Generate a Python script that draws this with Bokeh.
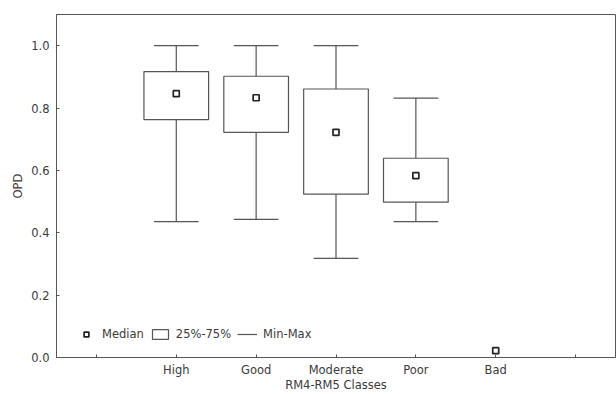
from bokeh.plotting import figure
from bokeh.models import (Range1d, FixedTicker, Legend, LegendItem, ColumnDataSource)
from bokeh.embed import file_html
from bokeh.resources import INLINE

# ---- data ----
positions = [1, 2, 3, 4, 5, 6, 7]
tick_labels = ["", "High", "Good", "Moderate", "Poor", "Bad", ""]
classes = ["High", "Good", "Moderate", "Poor", "Bad"]
class_pos = [2, 3, 4, 5, 6]
medians = [0.846, 0.833, 0.722, 0.583, 0.022]
q1 = [0.763, 0.722, 0.524, 0.498, 0.022]
q3 = [0.917, 0.902, 0.861, 0.639, 0.022]
mins = [0.436, 0.443, 0.318, 0.436, 0.022]
maxs = [1.0, 1.0, 1.0, 0.832, 0.022]
y_ticks = [0.0, 0.2, 0.4, 0.6, 0.8, 1.0]

LINE = "#555555"
TEXT = "#3a3a3a"
FONT = "DejaVu Sans"
FS = "11.5px"
BOX_W = 0.81
CAP_W = 0.56

p = figure(width=616, height=394, output_backend="svg", toolbar_location=None,
           x_range=Range1d(0.5, 7.5), y_range=Range1d(0, 1.1),
           min_border_left=56, min_border_right=1, min_border_top=14,
           min_border_bottom=0)
p.background_fill_color = "white"
p.border_fill_color = "white"
p.outline_line_color = LINE
p.xgrid.visible = False
p.ygrid.visible = False

# boxes only where the range is non-degenerate
idx = [i for i in range(len(classes)) if q3[i] > q1[i]]
box = ColumnDataSource(dict(
    x=[class_pos[i] for i in idx],
    left=[class_pos[i] - BOX_W / 2 for i in idx],
    right=[class_pos[i] + BOX_W / 2 for i in idx],
    capl=[class_pos[i] - CAP_W / 2 for i in idx],
    capr=[class_pos[i] + CAP_W / 2 for i in idx],
    q1=[q1[i] for i in idx], q3=[q3[i] for i in idx],
    lo=[mins[i] for i in idx], hi=[maxs[i] for i in idx],
))
stem = p.segment(x0="x", y0="lo", x1="x", y1="hi", source=box,
                 line_color=LINE, line_width=1.2)
p.segment(x0="capl", y0="hi", x1="capr", y1="hi", source=box,
          line_color=LINE, line_width=1.2)
p.segment(x0="capl", y0="lo", x1="capr", y1="lo", source=box,
          line_color=LINE, line_width=1.2)
boxr = p.quad(left="left", right="right", bottom="q1", top="q3", source=box,
              fill_color="white", line_color=LINE, line_width=1.2)
med = p.scatter(x=class_pos, y=medians, marker="square", size=6,
                fill_color="white", line_color="#222222", line_width=1.7)

# axes
p.xaxis.ticker = FixedTicker(ticks=positions)
p.xaxis.major_label_overrides = {pos: lab for pos, lab in zip(positions, tick_labels)}
p.yaxis.ticker = FixedTicker(ticks=y_ticks)
p.yaxis.major_label_overrides = {t: f"{t:.1f}" for t in y_ticks}
for ax in (p.xaxis[0], p.yaxis[0]):
    ax.axis_line_color = LINE
    ax.major_tick_line_color = LINE
    ax.major_tick_in = 3
    ax.major_tick_out = 0
    ax.minor_tick_line_color = None
    ax.major_label_text_font = FONT
    ax.major_label_text_font_size = FS
    ax.major_label_text_color = TEXT
    ax.axis_label_text_font = FONT
    ax.axis_label_text_font_size = FS
    ax.axis_label_text_font_style = "normal"
    ax.axis_label_text_color = TEXT
p.xaxis.axis_label = "RM4-RM5 Classes"
p.yaxis.axis_label = "OPD"
p.xaxis.major_label_standoff = 5
p.xaxis.axis_label_standoff = -2
p.yaxis.major_label_standoff = 7
p.yaxis.axis_label_standoff = 3

legend = Legend(items=[
    LegendItem(label="Median", renderers=[med]),
    LegendItem(label="25%-75%", renderers=[boxr]),
    LegendItem(label="Min-Max", renderers=[stem]),
], orientation="horizontal", location="bottom_left",
    border_line_color=None, background_fill_alpha=0,
    label_text_font=FONT, label_text_font_size=FS, label_text_color=TEXT,
    glyph_width=20, glyph_height=12, spacing=6, label_standoff=6,
    margin=0, padding=0)
legend.location = (20, 16)
p.add_layout(legend)

open("out.html", "w").write(file_html(p, INLINE))
